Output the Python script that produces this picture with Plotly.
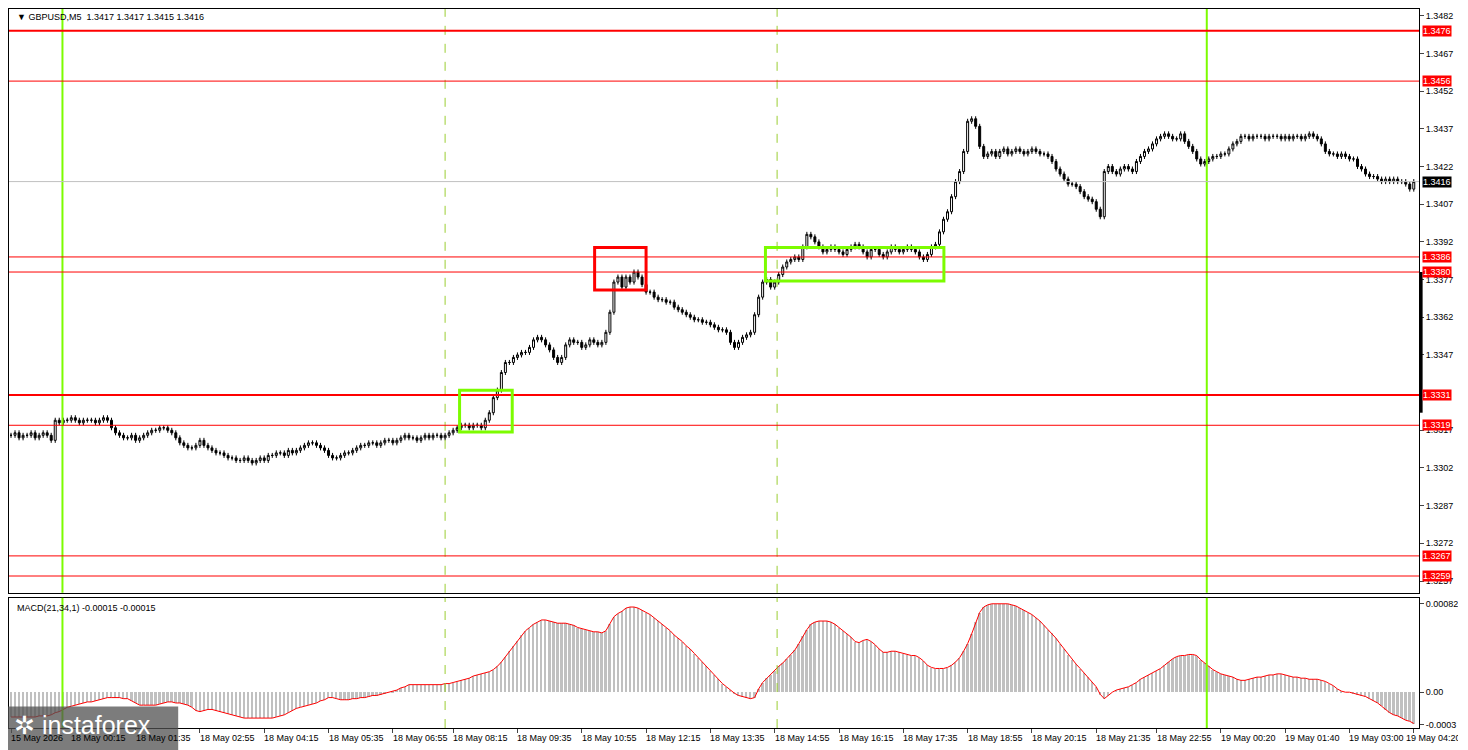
import plotly.graph_objects as go

# close prices in pips above 1.3300
close_pips = [
15,16,14,15,15,16,14,15,16,15, 13,21,20,21,21,22,21,20,21,21,
21,20,21,22,21,18,16,15,14,14, 15,13,14,15,16,17,17,18,18,17,
16,14,12,11,10,10,11,13,11,10, 9,8,8,7,6,6,5,5,6,5,
4,5,6,5,7,7,8,8,7,9, 8,9,10,11,12,12,11,10,9,7,
6,6,7,8,8,9,10,11,11,12, 12,11,12,13,13,12,13,14,15,14,
14,13,14,15,14,15,15,14,15,16, 17,18,19,19,18,19,19,18,21,24,
30,33,40,44,44,46,47,48,48,50, 53,54,53,51,49,46,44,46,51,53,
52,52,50,51,53,52,51,52,56,64, 76,78,74,78,76,80,78,75,72,72,
70,69,69,68,68,66,65,64,63,62, 61,61,60,60,59,58,57,57,56,52,
50,52,54,55,56,63,70,76,77,74, 76,79,82,84,85,86,85,90,95,94,
92,90,88,89,90,89,88,87,89,90, 91,90,88,86,89,89,87,86,88,90,
89,88,89,90,89,88,86,85,87,90, 91,96,101,104,110,116,120,128,140,141,
138,130,126,127,128,126,128,129,127,128, 129,128,127,128,129,128,127,127,126,124,
121,119,117,115,115,114,112,110,109,108, 105,102,120,122,120,119,121,122,121,120,
124,126,128,129,131,133,134,135,134,133, 133,135,132,130,128,125,123,124,125,126,
126,127,127,129,131,132,134,134,133,134, 134,134,133,134,134,134,133,134,133,134,
134,133,134,135,134,133,131,128,127,127, 126,127,126,125,125,122,121,119,118,118,
117,116,117,116,117,116,116,115,113,116]

# MACD values in 1e-5
macd_e5 = [
-23,-23,-23,-23,-23,-23,-23,-22,-22,-22, -21,-19,-18,-16,-14,-13,-12,-11,-10,-9,
-9,-8,-7,-6,-5,-5,-5,-5,-6,-6, -8,-10,-12,-12,-12,-12,-12,-11,-10,-9,
-9,-10,-10,-11,-12,-14,-17,-18,-17,-16, -16,-17,-18,-19,-20,-21,-22,-23,-24,-24,
-24,-24,-24,-24,-24,-24,-23,-22,-21,-19, -17,-15,-14,-13,-12,-11,-10,-8,-7,-5,
-5,-6,-7,-7,-7,-6,-6,-5,-5,-4, -3,-3,-2,-1,0,1,2,4,5,7,
7,7,7,7,7,7,7,7,8,8, 9,10,11,12,13,15,16,17,18,19,
21,24,28,33,38,43,48,53,57,60, 63,65,67,67,66,65,64,64,64,63,
62,60,59,58,57,56,56,55,57,63, 70,73,75,78,79,79,78,76,74,72,
69,66,63,60,57,53,50,47,43,40, 36,32,28,24,20,16,12,8,5,2,
-1,-3,-4,-5,-6,-5,3,9,13,16, 20,24,27,31,35,39,45,52,58,63,
65,66,66,66,65,63,60,57,54,51, 47,46,48,49,47,44,40,37,37,38,
38,37,36,35,34,34,32,29,25,23, 22,22,22,23,25,28,32,38,45,54,
65,74,79,81,82,82,82,82,82,81, 80,78,76,74,72,69,66,62,58,55,
50,45,40,35,30,26,22,18,14,10, 5,-2,-6,-3,0,2,3,4,5,7,
9,12,14,16,18,20,22,25,28,31, 33,34,34,35,35,34,30,27,24,21,
19,17,16,15,14,12,11,11,12,13, 14,14,15,16,16,17,17,16,15,14,
14,13,13,12,12,12,11,10,8,6, 3,1,0,0,-1,-2,-3,-4,-6,-8,
-10,-13,-16,-19,-21,-22,-24,-26,-27,-29]

level_thick = [1.3476, 1.3331]
level_thin = [1.3456, 1.3386, 1.3380, 1.3319, 1.3267, 1.3259]
current_price = 1.3416
price_ticks = [1.3482,1.3467,1.3452,1.3437,1.3422,1.3407,1.3392,1.3377,1.3362,1.3347,1.3317,1.3302,1.3287,1.3272,1.3257]
macd_ticks = [0.00082, 0.0, -0.0003]
macd_tick_text = ["0.00082", "0.00", "-0.0003"]
time_labels = ["15 May 2026","18 May 00:15","18 May 01:35","18 May 02:55","18 May 04:15","18 May 05:35",
               "18 May 06:55","18 May 08:15","18 May 09:35","18 May 10:55","18 May 12:15","18 May 13:35",
               "18 May 14:55","18 May 16:15","18 May 17:35","18 May 18:55","18 May 20:15","18 May 21:35",
               "18 May 22:55","19 May 00:20","19 May 01:40","19 May 03:00","19 May 04:20"]
time_label_bars = [0,15,31,47,63,79,95,110,126,142,158,174,190,206,222,238,254,270,285,301,317,333,349]
green_solid_bars = [12.8, 297.5]
green_dash_bars = [108, 190.6]
# boxes: (bar0, bar1, price0, price1, color)
boxes = [(111.6, 124.7, 1.33163, 1.33329, "#7CFC00"),
         (145.2, 158.0, 1.33728, 1.33898, "#FF0000"),
         (187.7, 232.1, 1.33764, 1.33898, "#7CFC00")]

n = len(close_pips)
x = list(range(n))
close = [1.33 + c * 1e-4 for c in close_pips]
opn = [close[0]] + close[:-1]
high = [max(o, c) + 1e-4 for o, c in zip(opn, close)]
low = [min(o, c) - 1e-4 for o, c in zip(opn, close)]
macd = [v * 1e-5 for v in macd_e5]

FAM = "Liberation Sans"
FS = 9
fig = go.Figure()
fig.add_trace(go.Candlestick(x=x, open=opn, high=high, low=low, close=close,
    increasing=dict(line=dict(color="black", width=1), fillcolor="white"),
    decreasing=dict(line=dict(color="black", width=1), fillcolor="black"),
    whiskerwidth=0, xaxis="x", yaxis="y", hoverinfo="skip", showlegend=False))
fig.add_trace(go.Bar(x=x, y=macd, marker=dict(color="#C0C0C0", line=dict(width=0)), width=0.45,
    xaxis="x2", yaxis="y2", showlegend=False))
fig.add_trace(go.Scatter(x=x, y=macd, mode="lines", line=dict(color="red", width=1),
    xaxis="x2", yaxis="y2", showlegend=False))

xr = [-0.5, 350.3]
fnt = dict(family=FAM, size=FS, color="black")
fig.update_layout(
    width=1450, height=742, margin=dict(l=0, r=36, t=0, b=22),
    paper_bgcolor="white", plot_bgcolor="white", font=fnt, bargap=0,
    xaxis=dict(domain=[0, 1], range=xr, showticklabels=False, showgrid=False, zeroline=False,
               showline=True, mirror=True, linecolor="black", linewidth=1, rangeslider=dict(visible=False)),
    yaxis=dict(domain=[0.188, 1], range=[1.32523, 1.34847], side="right", tickvals=price_ticks,
               ticktext=[f"{v:.4f}" for v in price_ticks], ticks="outside", ticklen=4,
               showgrid=False, zeroline=False, showline=True, mirror=True, linecolor="black", linewidth=1),
    xaxis2=dict(domain=[0, 1], range=xr, anchor="y2", tickvals=time_label_bars, ticktext=[""] * len(time_label_bars),
                ticks="outside", ticklen=4, showgrid=False, zeroline=False,
                showline=True, mirror=True, linecolor="black", linewidth=1),
    yaxis2=dict(domain=[0, 0.181], range=[-0.000332, 0.000875], anchor="x2", side="right",
                tickvals=macd_ticks, ticktext=macd_tick_text, ticks="outside", ticklen=4,
                showgrid=False, zeroline=False, showline=True, mirror=True, linecolor="black", linewidth=1),
)

shapes = []
for b in green_solid_bars:
    for ya, xa in (("y domain", "x"), ("y2 domain", "x2")):
        shapes.append(dict(type="line", xref=xa, yref=ya, x0=b, x1=b, y0=0, y1=1,
                           line=dict(color="#7CFC00", width=2)))
for b in green_dash_bars:
    for ya, xa in (("y domain", "x"), ("y2 domain", "x2")):
        shapes.append(dict(type="line", xref=xa, yref=ya, x0=b, x1=b, y0=0, y1=1,
                           line=dict(color="#9ACD32", width=1, dash="dash")))
shapes.append(dict(type="line", xref="x domain", yref="y", x0=0, x1=1, y0=current_price, y1=current_price,
                   line=dict(color="#C0C0C0", width=1)))
for lv in level_thick:
    shapes.append(dict(type="line", xref="x domain", yref="y", x0=0, x1=1, y0=lv, y1=lv,
                       line=dict(color="red", width=2)))
for lv in level_thin:
    shapes.append(dict(type="line", xref="x domain", yref="y", x0=0, x1=1, y0=lv, y1=lv,
                       line=dict(color="red", width=1)))
for b0, b1, p0, p1, col in boxes:
    shapes.append(dict(type="rect", xref="x", yref="y", x0=b0, x1=b1, y0=p0, y1=p1,
                       line=dict(color=col, width=3)))
# one-click bar on price scale
shapes.append(dict(type="line", xref="paper", yref="y", x0=1.0015, x1=1.0015, y0=1.3324, y1=1.3380,
                   line=dict(color="black", width=3)))
# watermark box
shapes.append(dict(type="rect", xref="paper", yref="paper", x0=-0.006, x1=0.12, y0=-0.06, y1=0.03,
                   fillcolor="rgba(80,80,80,0.75)", line=dict(width=0), layer="above"))
fig.update_layout(shapes=shapes)

ann = []
for lv in level_thick + level_thin:
    ann.append(dict(xref="paper", yref="y", x=1.0, y=lv, xanchor="left", yanchor="middle", xshift=3,
                    text=f"{lv:.4f}", showarrow=False, bgcolor="red", font=dict(family=FAM, size=FS, color="white"),
                    borderpad=0))
ann.append(dict(xref="paper", yref="y", x=1.0, y=current_price, xanchor="left", yanchor="middle", xshift=3,
                text=f"{current_price:.4f}", showarrow=False, bgcolor="black",
                font=dict(family=FAM, size=FS, color="white"), borderpad=0))
for i, (b, t) in enumerate(zip(time_label_bars, time_labels)):
    last = i == len(time_labels) - 1
    ann.append(dict(xref="x2", yref="paper", x=b, y=0, yanchor="top", xanchor="left", yshift=-3,
                    xshift=-10 if last else -2, text=t, showarrow=False, font=fnt))
ann.append(dict(xref="paper", yref="paper", x=0.004, y=1, xanchor="left", yanchor="top", yshift=-1,
                text="▼ GBPUSD,M5  1.3417 1.3417 1.3415 1.3416", showarrow=False, font=dict(family=FAM, size=9)))
ann.append(dict(xref="paper", yref="paper", x=0.004, y=0.181, xanchor="left", yanchor="top", yshift=-3,
                text="MACD(21,34,1) -0.00015 -0.00015", showarrow=False, font=dict(family=FAM, size=9)))
ann.append(dict(xref="paper", yref="paper", x=0.002, y=0.027, xanchor="left", yanchor="top",
                text="✲ instaforex", showarrow=False, font=dict(family=FAM, size=25, color="white")))
ann.append(dict(xref="paper", yref="paper", x=0.03, y=-0.028, xanchor="left", yanchor="top",
                text="Instant Forex Trading", showarrow=False, font=dict(family=FAM, size=10, color="white")))
fig.update_layout(annotations=ann)

fig.write_html("out.html")
